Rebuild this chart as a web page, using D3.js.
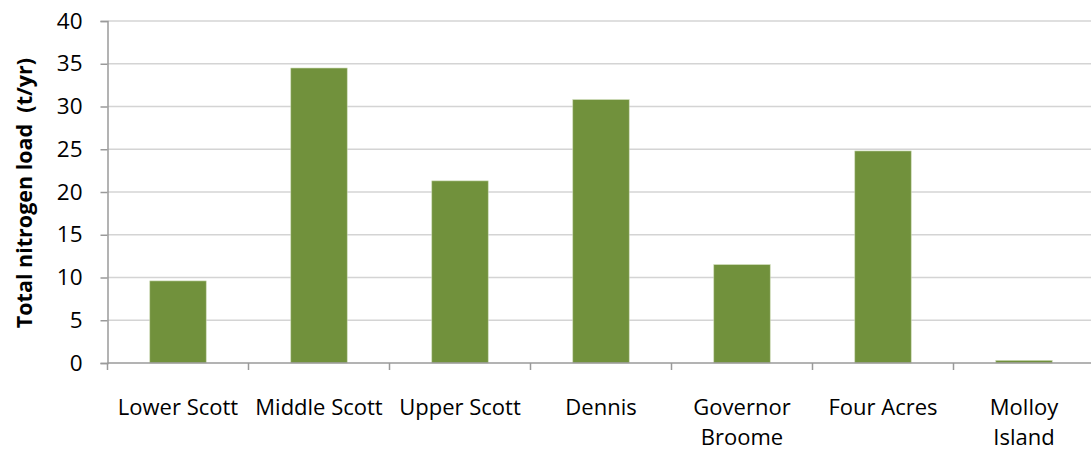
<!DOCTYPE html>
<html>
<head>
<meta charset="utf-8">
<script src="https://cdn.jsdelivr.net/npm/d3@7"></script>
<style>
  body { margin: 0; background: #fff; }
  text { font-family: "Open Sans", sans-serif; fill: #000; }
</style>
</head>
<body>
<div id="chart"></div>
<script>
// nitrogen loads
const sites = ['Lower Scott', 'Middle Scott', 'Upper Scott', 'Dennis', 'Governor Broome', 'Four Acres', 'Molloy Island'];
const siteLines = [['Lower Scott'], ['Middle Scott'], ['Upper Scott'], ['Dennis'], ['Governor', 'Broome'], ['Four Acres'], ['Molloy', 'Island']];
const loads = [9.6, 34.5, 21.3, 30.8, 11.5, 24.8, 0.3];
const yTicks = [0, 5, 10, 15, 20, 25, 30, 35, 40];

let width = 1091, height = 450;
const plotLeft = 107.5, plotRight = 1094.5, plotTop = 21, plotBottom = 363;

const svg = d3.select('#chart')
  .append('svg')
  .attr('width', width)
  .attr('height', height);

const x = d3.scaleBand()
  .domain(sites)
  .range([plotLeft, plotRight])
  .paddingInner(0.6)
  .paddingOuter(0.3);

const y = d3.scaleLinear()
  .domain([0, 40])
  .range([plotBottom, plotTop]);

// gridlines
svg.append('g')
  .selectAll('line')
  .data(yTicks.filter(d => d > 0))
  .enter()
  .append('line')
  .attr('x1', plotLeft)
  .attr('x2', plotRight)
  .attr('y1', d => y(d))
  .attr('y2', d => y(d))
  .attr('stroke', '#d4d4d4')
  .attr('stroke-width', 1.5);

// bars
svg.append('g')
  .selectAll('rect')
  .data(loads)
  .enter()
  .append('rect')
  .attr('x', (d, i) => x(sites[i]))
  .attr('y', d => y(d))
  .attr('width', x.bandwidth())
  .attr('height', d => y(0) - y(d))
  .attr('fill', '#71913c')
  .attr('stroke', '#c9d8b0')
  .attr('stroke-width', 0.6);

// y axis
const yAxis = d3.axisLeft(y).tickValues(yTicks).tickSize(7).tickPadding(18);
const gy = svg.append('g')
  .attr('transform', `translate(${plotLeft},0)`)
  .call(yAxis);
gy.select('.domain').attr('stroke', '#9a9a9a').attr('stroke-width', 1.5);
gy.selectAll('.tick line').attr('stroke', '#9a9a9a').attr('stroke-width', 1.5);
gy.selectAll('.tick text')
  .style('font-family', '"Open Sans", sans-serif')
  .style('font-size', '22.5px')
  .attr('fill', '#000');

// x axis: ticks on the category boundaries
const bounds = d3.range(sites.length + 1).map(i => plotLeft + i * x.step());
svg.append('line')
  .attr('x1', plotLeft).attr('x2', plotRight)
  .attr('y1', plotBottom).attr('y2', plotBottom)
  .attr('stroke', '#9a9a9a').attr('stroke-width', 1.5);
svg.append('g')
  .selectAll('line')
  .data(bounds)
  .enter()
  .append('line')
  .attr('x1', d => d).attr('x2', d => d)
  .attr('y1', plotBottom).attr('y2', plotBottom + 7)
  .attr('stroke', '#9a9a9a').attr('stroke-width', 1.5);

// category labels
const lab = svg.append('g')
  .selectAll('text')
  .data(siteLines)
  .enter()
  .append('text')
  .attr('text-anchor', 'middle')
  .style('font-size', '22px')
  .attr('transform', (d, i) => `translate(${x(sites[i]) + x.bandwidth() / 2},415)`);
lab.selectAll('tspan')
  .data(d => d)
  .enter()
  .append('tspan')
  .attr('x', 0)
  .attr('dy', (d, i) => i === 0 ? 0 : 30)
  .text(d => d);

// y title
svg.append('text')
  .attr('transform', `translate(32,193) rotate(-90)`)
  .attr('text-anchor', 'middle')
  .style('font-size', '21.5px')
  .style('font-weight', 'bold')
  .style('white-space', 'pre')
  .text('Total nitrogen load  (t/yr)');
</script>
</body>
</html>
